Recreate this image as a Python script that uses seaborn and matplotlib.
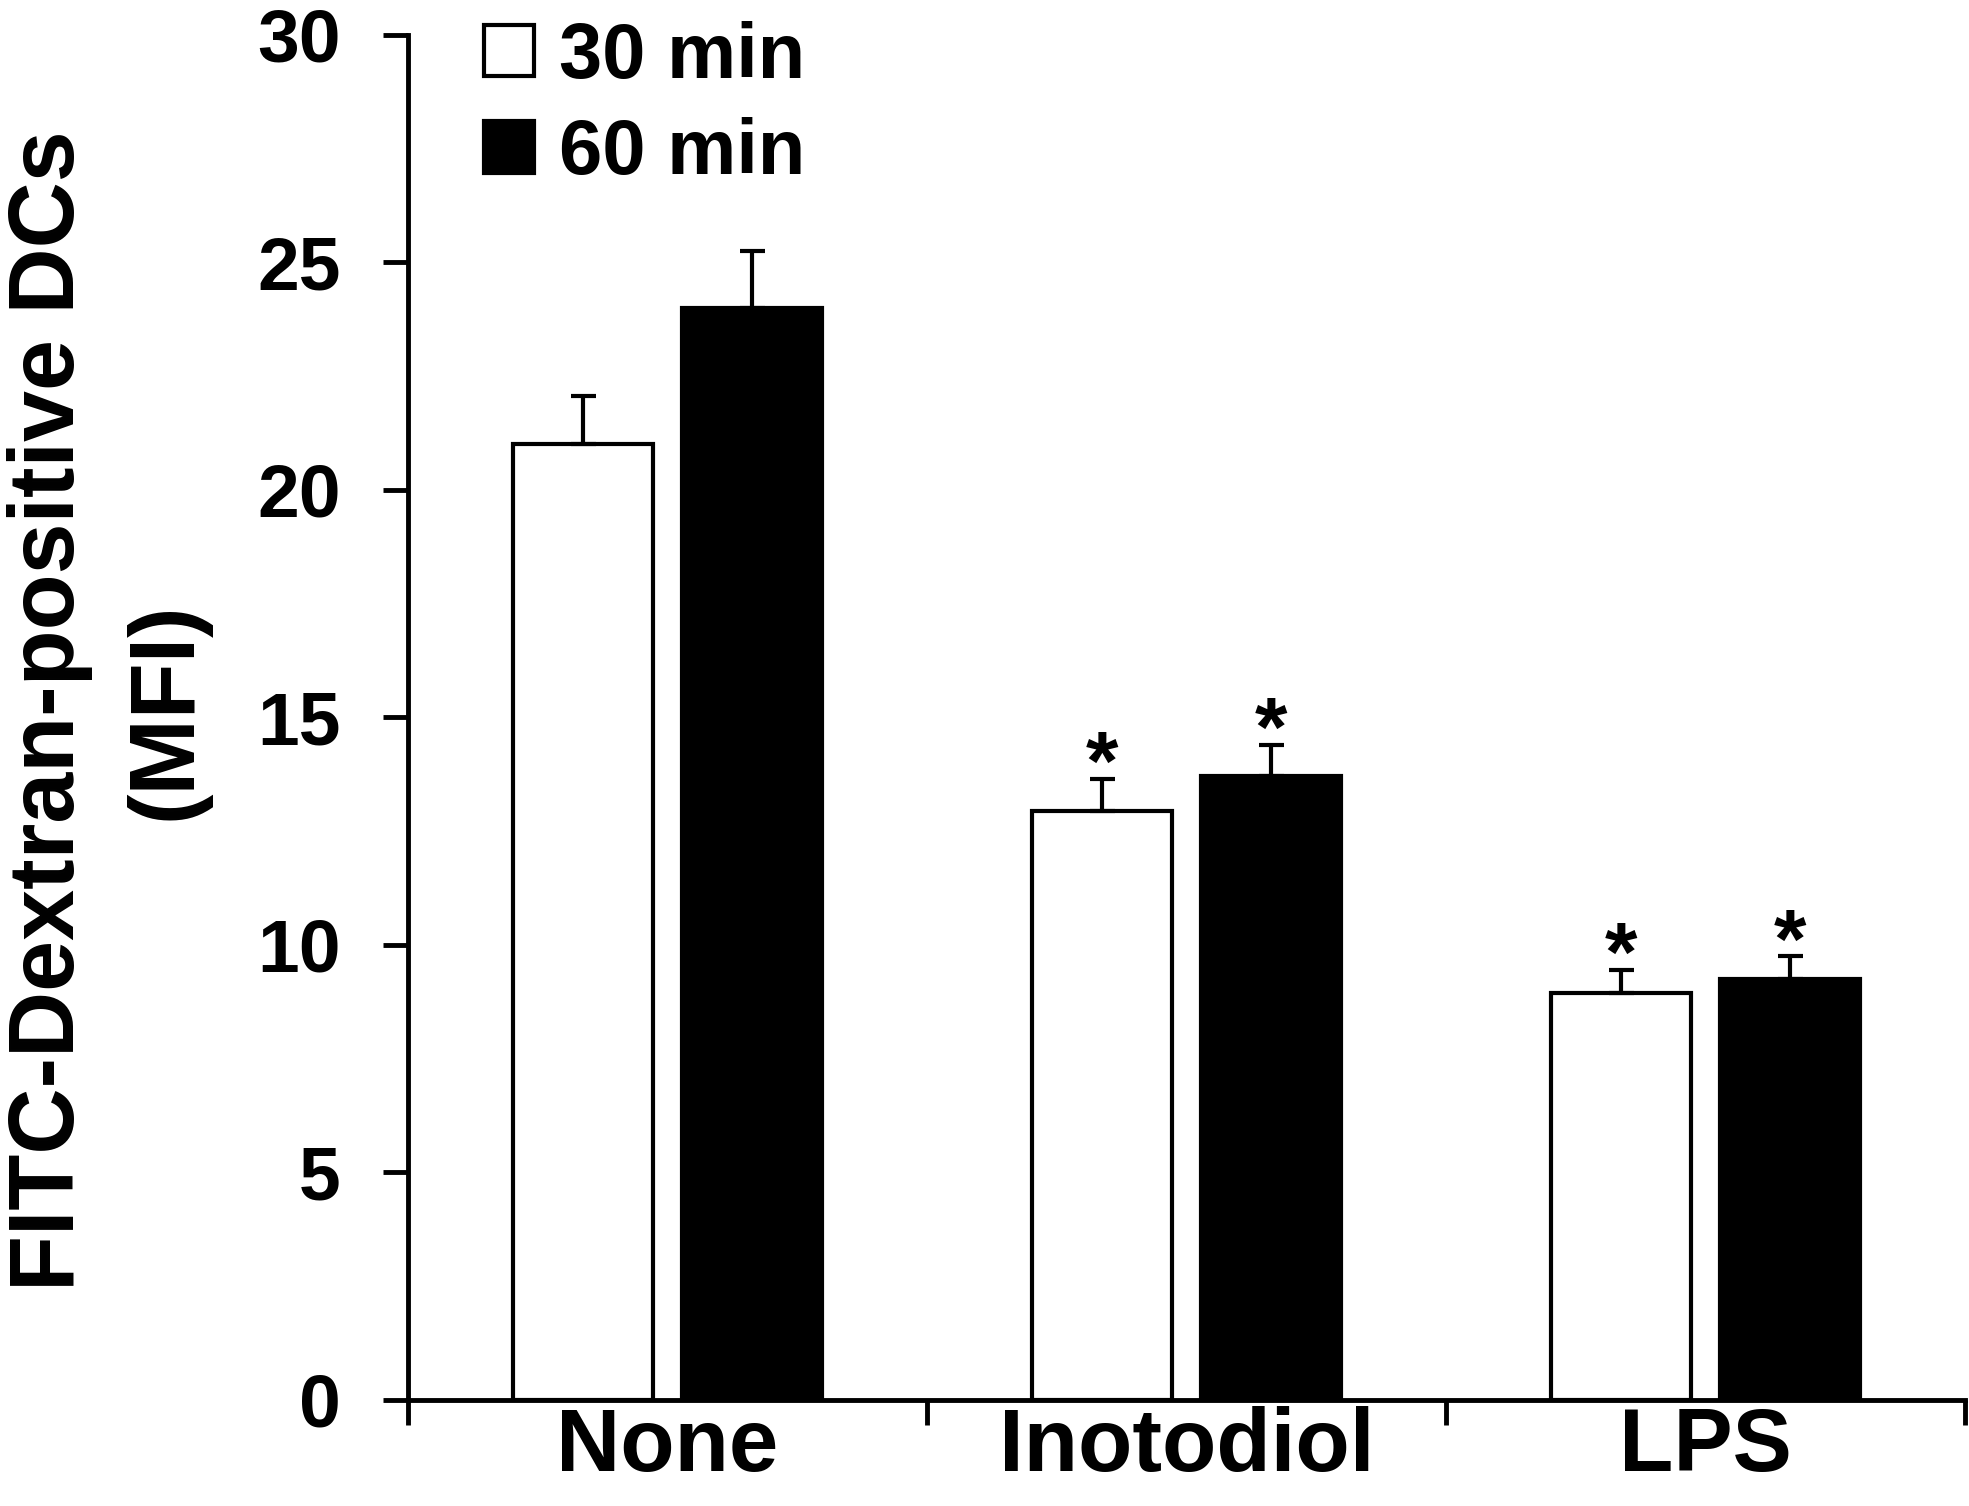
import numpy as np
import pandas as pd
import seaborn as sns
import matplotlib.pyplot as plt

# values
treatments = ["None", "Inotodiol", "LPS"]
times = ["30 min", "60 min"]
mfi_30 = [21.0, 12.95, 8.95]
mfi_60 = [24.0, 13.7, 9.25]
sem_30 = [1.05, 0.7, 0.5]
sem_60 = [1.25, 0.7, 0.5]
stars_30 = ["", "*", "*"]
stars_60 = ["", "*", "*"]


def build_frame():
    df = pd.DataFrame({
        "Treatment": treatments * 2,
        "Time": [times[0]] * 3 + [times[1]] * 3,
        "MFI": mfi_30 + mfi_60,
    })
    return df


def plot_uptake(df):
    sns.set_style("ticks", {"axes.edgecolor": "black", "text.color": "black",
                            "axes.labelcolor": "black",
                            "xtick.color": "black", "ytick.color": "black"})
    plt.rcParams["font.family"] = ["Liberation Sans", "DejaVu Sans"]
    plt.rcParams["font.weight"] = "bold"

    fig = plt.figure(figsize=(19.69, 15.06), dpi=100)
    ax = fig.add_axes([0.207, 0.0704, 0.791, 0.9066])

    sns.barplot(data=df, x="Treatment", y="MFI", hue="Time",
                order=treatments, hue_order=times,
                palette={"30 min": "white", "60 min": "black"},
                edgecolor="black", linewidth=3, width=0.65, gap=0.17,
                errorbar=None, ax=ax)

    errs = [sem_30, sem_60]
    means = [mfi_30, mfi_60]
    stars = [stars_30, stars_60]
    for cont, m, e, s in zip(ax.containers, means, errs, stars):
        xs = np.array([p.get_x() + p.get_width() / 2 for p in cont.patches])
        m = np.array(m)
        e = np.array(e)
        ax.errorbar(xs, m, yerr=[np.zeros_like(e), e], fmt="none",
                    ecolor="black", elinewidth=3, capsize=9, capthick=3,
                    zorder=1)
        for x, top, txt in zip(xs, m + e, s):
            if txt:
                ax.text(x, top - 0.25, txt, ha="center", va="baseline",
                        fontsize=60, fontweight="bold", color="black")

    ax.set_ylim(0, 30)
    ax.set_xlim(-0.5, 2.5)
    ax.set_yticks([0, 5, 10, 15, 20, 25, 30])
    ax.set_xticks([-0.5, 0.5, 1.5, 2.5], minor=True)
    ax.tick_params(axis="y", labelsize=54, length=18, width=3.5, pad=30,
                   colors="black")
    ax.tick_params(axis="x", which="major", labelsize=64, length=0, pad=4,
                   colors="black")
    ax.tick_params(axis="x", which="minor", length=18, width=3.5,
                   colors="black")
    for lab in ax.get_xticklabels() + ax.get_yticklabels():
        lab.set_fontweight("bold")

    sns.despine(ax=ax)
    ax.spines["left"].set_linewidth(3.5)
    ax.spines["bottom"].set_linewidth(3.5)

    ax.set_xlabel("")
    ax.set_ylabel("FITC-Dextran-positive DCs\n(MFI)", fontsize=66,
                  fontweight="bold", ha="center", va="center",
                  linespacing=1.45, color="black")
    ax.yaxis.set_label_coords(-0.192, 0.505)

    ax.legend(ax.containers, times, loc="upper left",
              bbox_to_anchor=(0.049, 1.01), frameon=False, fontsize=56,
              handlelength=0.64, handleheight=0.64, handletextpad=0.32,
              labelspacing=0.3, borderpad=0, borderaxespad=0)

    fig.savefig("out.png", dpi=100)


def main():
    df = build_frame()
    plot_uptake(df)


if __name__ == "__main__":
    main()
